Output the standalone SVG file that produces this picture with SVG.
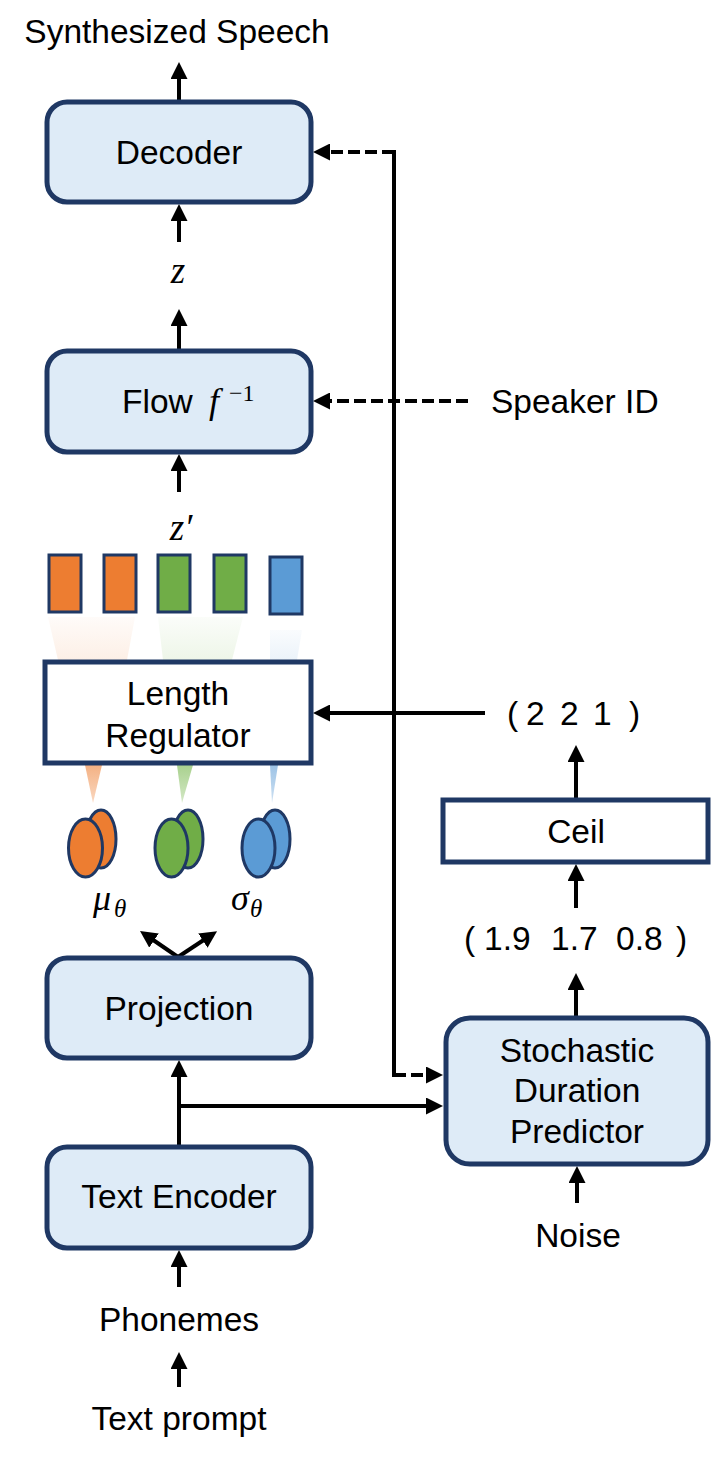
<svg xmlns="http://www.w3.org/2000/svg" width="714" height="1460" viewBox="0 0 714 1460">
<defs>
<style>
.box{fill:#DEEBF7;stroke:#1F3864;stroke-width:5}
.wbox{fill:#FFFFFF;stroke:#1F3864;stroke-width:5}
.t{font-family:"Liberation Sans",Arial,sans-serif;font-size:33.5px;fill:#000}
.c{text-anchor:middle}
.m{font-family:"Liberation Serif","DejaVu Serif",serif;font-style:italic;fill:#000}
.ln{fill:none;stroke:#000;stroke-width:4}
.ar{fill:none;stroke:#000;stroke-width:4;marker-end:url(#ah)}
.da{fill:none;stroke:#000;stroke-width:4;stroke-dasharray:12 5;marker-end:url(#ah)}
.blk{stroke:#1F3864;stroke-width:3}
.el{stroke:#1F3864;stroke-width:3}
</style>
<marker id="ah" markerUnits="userSpaceOnUse" markerWidth="17" markerHeight="17" viewBox="0 0 17 17" refX="1" refY="8.5" orient="auto">
<path d="M0,0 L17,8.5 L0,17 z" fill="#000"/>
</marker>
<linearGradient id="gO" x1="0" y1="0" x2="0" y2="1"><stop offset="0" stop-color="#F4B183" stop-opacity="0.05"/><stop offset="1" stop-color="#F4B183" stop-opacity="0.2"/></linearGradient>
<linearGradient id="gG" x1="0" y1="0" x2="0" y2="1"><stop offset="0" stop-color="#A9D18E" stop-opacity="0.05"/><stop offset="1" stop-color="#A9D18E" stop-opacity="0.2"/></linearGradient>
<linearGradient id="gB" x1="0" y1="0" x2="0" y2="1"><stop offset="0" stop-color="#9DC3E6" stop-opacity="0.05"/><stop offset="1" stop-color="#9DC3E6" stop-opacity="0.2"/></linearGradient>
<linearGradient id="tO" x1="0" y1="0" x2="0" y2="1"><stop offset="0" stop-color="#F4B183"/><stop offset="1" stop-color="#F4B183" stop-opacity="0.5"/></linearGradient>
<linearGradient id="tG" x1="0" y1="0" x2="0" y2="1"><stop offset="0" stop-color="#A9D18E"/><stop offset="1" stop-color="#A9D18E" stop-opacity="0.5"/></linearGradient>
<linearGradient id="tB" x1="0" y1="0" x2="0" y2="1"><stop offset="0" stop-color="#9DC3E6"/><stop offset="1" stop-color="#9DC3E6" stop-opacity="0.5"/></linearGradient>
</defs>

<rect width="714" height="1460" fill="#FFFFFF"/>

<g id="projections">
<polygon points="48,617 135,617 127,660 58,660" fill="url(#gO)"/>
<polygon points="158,617 243,617 232,660 163,660" fill="url(#gG)"/>
<polygon points="270,630 302,630 297,660 270,660" fill="url(#gB)"/>
<polygon points="85,765 102,765 93,803" fill="url(#tO)"/>
<polygon points="177,765 193,765 182,803" fill="url(#tG)"/>
<polygon points="270,765 278,765 272,803" fill="url(#tB)"/>
</g>

<g id="connectors">
<path class="ln" d="M394,150 V1077"/>
<path class="ar" d="M179,100 V78"/>
<path class="ar" d="M179,242 V220"/>
<path class="ar" d="M179,349 V325"/>
<path class="ar" d="M179,492 V470"/>
<path class="ar" d="M485,713 H329"/>
<path class="ar" d="M576,798 V761"/>
<path class="ar" d="M576,908 V880"/>
<path class="ar" d="M576,1016 V989"/>
<path class="ar" d="M577,1203 V1182"/>
<path class="ar" d="M179,1145 V1076"/>
<path class="ar" d="M179,1106 H427"/>
<path class="ar" d="M178,957 L153.2,940"/>
<path class="ar" d="M178,957 L203.7,940"/>
<path class="ar" d="M179,1287 V1266"/>
<path class="ar" d="M179,1387 V1368"/>
<path class="da" d="M394,152 H329"/>
<path class="da" d="M468,401 H329"/>
<path class="da" d="M394,1075 H427"/>
</g>

<g id="synth-speech"><text class="t c" x="177" y="43">Synthesized Speech</text></g>

<g id="decoder">
<rect class="box" x="47" y="102" width="264" height="100" rx="20"/>
<text class="t c" x="179" y="164">Decoder</text>
</g>

<g id="z"><text class="m" x="178" y="283" font-size="37" text-anchor="middle">z</text></g>

<g id="flow">
<rect class="box" x="47" y="351" width="264" height="101" rx="20"/>
<text class="t" x="122" y="413">Flow</text>
<text class="m" x="209" y="413" font-size="36">f</text>
<text x="229" y="401" font-family="'Liberation Serif','DejaVu Serif',serif" font-size="24">−1</text>
</g>

<g id="zprime"><text class="m" x="181" y="540" font-size="37" text-anchor="middle">z′</text></g>

<g id="zprime-blocks">
<rect class="blk" x="49" y="555" width="32" height="57" fill="#ED7D31"/>
<rect class="blk" x="104" y="555" width="32" height="57" fill="#ED7D31"/>
<rect class="blk" x="158" y="555" width="32" height="57" fill="#70AD47"/>
<rect class="blk" x="214" y="555" width="32" height="57" fill="#70AD47"/>
<rect class="blk" x="270" y="557" width="32" height="57" fill="#5B9BD5"/>
</g>

<g id="length-regulator">
<rect class="wbox" x="45" y="662" width="266" height="101"/>
<text class="t c" x="178" y="705">Length</text>
<text class="t c" x="178" y="747">Regulator</text>
</g>

<g id="gaussians">
<ellipse class="el" cx="101" cy="839" rx="15" ry="29" fill="#ED7D31"/>
<ellipse class="el" cx="85.5" cy="848" rx="17" ry="29" fill="#ED7D31"/>
<ellipse class="el" cx="188" cy="839" rx="15" ry="29" fill="#70AD47"/>
<ellipse class="el" cx="171.5" cy="848" rx="16.5" ry="29" fill="#70AD47"/>
<ellipse class="el" cx="275" cy="839" rx="15" ry="29" fill="#5B9BD5"/>
<ellipse class="el" cx="258.5" cy="848" rx="16.5" ry="29" fill="#5B9BD5"/>
</g>

<g id="mu"><text class="m" x="93" y="910" font-size="36">μ</text><text class="m" x="114" y="917" font-size="25">θ</text></g>
<g id="sigma"><text class="m" x="231" y="910" font-size="36">σ</text><text class="m" x="250" y="917" font-size="25">θ</text></g>

<g id="projection">
<rect class="box" x="47" y="958" width="264" height="100" rx="20"/>
<text class="t c" x="179" y="1020">Projection</text>
</g>

<g id="text-encoder">
<rect class="box" x="47" y="1147" width="264" height="101" rx="20"/>
<text class="t c" x="179" y="1208">Text Encoder</text>
</g>

<g id="phonemes"><text class="t c" x="179" y="1331">Phonemes</text></g>
<g id="text-prompt"><text class="t c" x="179" y="1430">Text prompt</text></g>

<g id="speaker-id"><text class="t" x="491" y="413">Speaker ID</text></g>

<g id="durations-int">
<text class="t"><tspan x="507" y="725">(</tspan><tspan x="526" y="725">2</tspan><tspan x="560" y="725">2</tspan><tspan x="593" y="725">1</tspan><tspan x="629" y="725">)</tspan></text>
</g>

<g id="ceil">
<rect class="wbox" x="443" y="800" width="265" height="62"/>
<text class="t c" x="576" y="843">Ceil</text>
</g>

<g id="durations">
<text class="t"><tspan x="464" y="950">(</tspan><tspan x="484" y="950">1.9</tspan><tspan x="551" y="950">1.7</tspan><tspan x="616" y="950">0.8</tspan><tspan x="676" y="950">)</tspan></text>
</g>

<g id="sdp">
<rect class="box" x="446" y="1018" width="262" height="146" rx="24"/>
<text class="t c" x="577" y="1062">Stochastic</text>
<text class="t c" x="577" y="1102">Duration</text>
<text class="t c" x="577" y="1143">Predictor</text>
</g>

<g id="noise"><text class="t c" x="578" y="1247">Noise</text></g>
</svg>
